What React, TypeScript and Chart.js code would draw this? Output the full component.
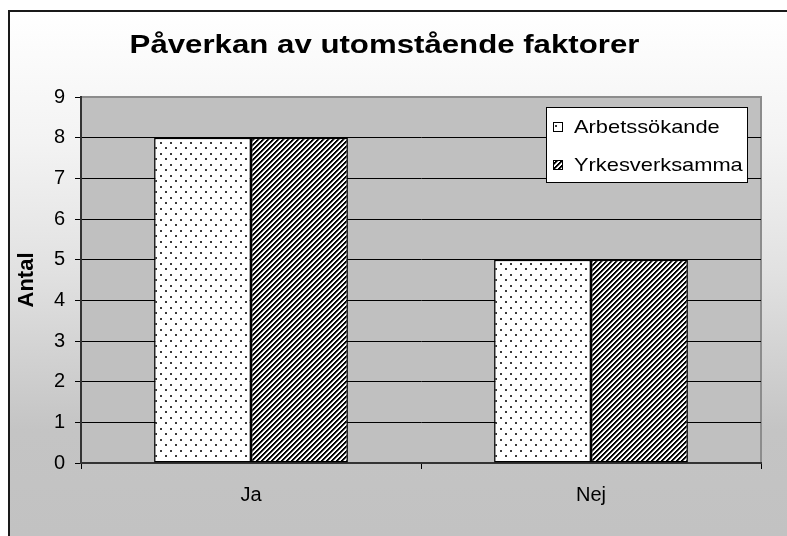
import React, { useEffect, useRef } from 'react';
import { Chart, registerables } from 'chart.js';

Chart.register(...registerables);

const chartTitle = 'Påverkan av utomstående faktorer';
const yAxisTitle = 'Antal';
const categories = ['Ja', 'Nej'];
const seriesNames = ['Arbetssökande', 'Yrkesverksamma'];
const arbetssokande = [8, 5];
const yrkesverksamma = [8, 5];
const yMin = 0;
const yMax = 9;
const yStep = 1;

const FONT = '"Liberation Sans", Arial, Helvetica, sans-serif';
const TEXT_STRETCH = 1.2;

function makeDots(): CanvasPattern {
  const c = document.createElement('canvas');
  c.width = 10;
  c.height = 11;
  const g = c.getContext('2d')!;
  g.fillStyle = '#ffffff';
  g.fillRect(0, 0, 10, 11);
  g.fillStyle = '#3a3a3a';
  g.fillRect(2, 2, 2, 2);
  g.fillRect(7, 7, 2, 2);
  return g.createPattern(c, 'repeat')!;
}

function makeStripes(): CanvasPattern {
  const c = document.createElement('canvas');
  c.width = 5;
  c.height = 5;
  const g = c.getContext('2d')!;
  for (let x = 0; x < 5; x++) {
    for (let y = 0; y < 5; y++) {
      const k = (x + y) % 5;
      g.fillStyle = k < 2 ? '#000000' : k === 2 ? '#777777' : '#ffffff';
      g.fillRect(x, y, 1, 1);
    }
  }
  return g.createPattern(c, 'repeat')!;
}

const framePlugin = {
  id: 'frame',
  afterLayout(chart: any) {
    const tb = chart.titleBlock;
    if (tb && !tb.__stretched) {
      const orig = tb.draw.bind(tb);
      tb.draw = (...args: any[]) => {
        const c = chart.ctx;
        const cx = (tb.left + tb.right) / 2;
        c.save();
        c.translate(cx, 0);
        c.scale(TEXT_STRETCH, 1);
        c.translate(-cx, 0);
        orig(...args);
        c.restore();
      };
      tb.__stretched = true;
    }
  },
  beforeDraw(chart: any) {
    const { ctx, width, height, chartArea: a } = chart;
    ctx.save();
    ctx.fillStyle = '#ffffff';
    ctx.fillRect(0, 0, width, height);
    const g = ctx.createLinearGradient(0, 3, 0, height);
    g.addColorStop(0, '#ffffff');
    g.addColorStop(0.25, '#f3f3f3');
    g.addColorStop(0.5, '#e1e1e1');
    g.addColorStop(0.8, '#c4c4c4');
    g.addColorStop(1, '#c2c2c2');
    ctx.fillStyle = g;
    ctx.fillRect(0, 3, width, height - 3);
    ctx.strokeStyle = '#1a1a1a';
    ctx.lineWidth = 2;
    ctx.beginPath();
    ctx.moveTo(1, height);
    ctx.lineTo(1, 3);
    ctx.lineTo(width, 3);
    ctx.stroke();
    ctx.fillStyle = '#c0c0c0';
    ctx.fillRect(a.left, a.top, a.right - a.left, a.bottom - a.top);
    ctx.strokeStyle = '#8c8c8c';
    ctx.lineWidth = 2;
    ctx.beginPath();
    ctx.moveTo(a.left, a.top);
    ctx.lineTo(a.right, a.top);
    ctx.lineTo(a.right, a.bottom);
    ctx.stroke();
    ctx.restore();
  },
};

const legendPlugin = {
  id: 'boxLegend',
  afterDraw(chart: any) {
    const { ctx, chartArea: a } = chart;
    const w = 202;
    const h = 76;
    const x = a.right - 13 - w;
    const y = a.top + 10;
    ctx.save();
    ctx.fillStyle = '#ffffff';
    ctx.fillRect(x, y, w, h);
    ctx.strokeStyle = '#000000';
    ctx.lineWidth = 1;
    ctx.strokeRect(x + 0.5, y + 0.5, w - 1, h - 1);
    chart.data.datasets.forEach((ds: any, i: number) => {
      const cy = y + 20 + i * 38;
      ctx.fillStyle = ds.backgroundColor;
      ctx.fillRect(x + 7, cy - 5, 10, 10);
      ctx.strokeStyle = '#000000';
      ctx.strokeRect(x + 7.5, cy - 4.5, 9, 9);
      const tx = x + 28;
      ctx.save();
      ctx.translate(tx, 0);
      ctx.scale(1.15, 1);
      ctx.font = `19px ${FONT}`;
      ctx.textBaseline = 'middle';
      ctx.textAlign = 'left';
      ctx.fillStyle = '#000000';
      ctx.fillText(ds.label, 0, cy + 1);
      ctx.restore();
    });
    ctx.restore();
  },
};

export default function App() {
  const ref = useRef<HTMLCanvasElement | null>(null);

  useEffect(() => {
    document.documentElement.style.overflow = 'hidden';
    document.body.style.overflow = 'hidden';
    if (!ref.current) return;
    const dots = makeDots();
    const stripes = makeStripes();
    const chart = new Chart(ref.current, {
      type: 'bar',
      data: {
        labels: categories,
        datasets: [
          {
            label: seriesNames[0],
            data: arbetssokande,
            backgroundColor: dots as any,
            borderColor: '#000000',
            borderWidth: 1.5,
            borderSkipped: false,
            categoryPercentage: 0.57,
            barPercentage: 1,
          },
          {
            label: seriesNames[1],
            data: yrkesverksamma,
            backgroundColor: stripes as any,
            borderColor: '#000000',
            borderWidth: 1.5,
            borderSkipped: false,
            categoryPercentage: 0.57,
            barPercentage: 1,
          },
        ],
      },
      options: {
        responsive: false,
        animation: false,
        devicePixelRatio: 1,
        layout: { padding: { left: 0, right: 26, top: 0, bottom: 0 } },
        plugins: {
          legend: { display: false },
          tooltip: { enabled: false },
          title: {
            display: true,
            text: chartTitle,
            color: '#000000',
            font: { family: FONT, size: 26, weight: 'bold' },
            padding: { top: 22, bottom: 35.8 },
          },
        },
        scales: {
          x: {
            grid: {
              display: true,
              drawOnChartArea: false,
              drawTicks: true,
              tickLength: 6,
              color: '#000000',
              offset: true,
            },
            border: { display: true, color: '#333333', width: 2 },
            ticks: { color: '#000000', font: { family: FONT, size: 20 }, padding: 14 },
            afterFit: (s: any) => {
              s.height = 73;
            },
          },
          y: {
            min: yMin,
            max: yMax,
            ticks: { stepSize: yStep, color: '#000000', font: { family: FONT, size: 20 }, padding: 10 },
            grid: {
              color: (c: any) => (c.tick && c.tick.value === yMax ? '#8c8c8c' : '#000000'),
              tickColor: '#000000',
              tickLength: 6,
            },
            border: { display: true, color: '#333333', width: 2 },
            title: {
              display: true,
              text: yAxisTitle,
              color: '#000000',
              font: { family: FONT, size: 22, weight: 'bold' },
              padding: { top: 6, bottom: 0 },
            },
            afterFit: (s: any) => {
              s.width = 73;
            },
          },
        },
      },
      plugins: [framePlugin, legendPlugin],
    } as any);
    return () => chart.destroy();
  }, []);

  return (
    <div style={{ position: 'fixed', left: 0, top: 0, width: 787, height: 536, overflow: 'hidden' }}>
      <canvas
        ref={ref}
        width={779}
        height={528}
        style={{ display: 'block', position: 'absolute', left: 8, top: 8 }}
      />
    </div>
  );
}
